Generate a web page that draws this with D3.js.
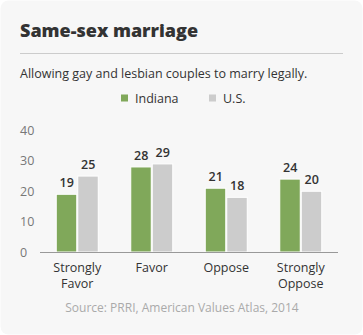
<!DOCTYPE html>
<html><head><meta charset="utf-8">
<script src="https://cdn.jsdelivr.net/npm/d3@7"></script>
<style>
html,body{margin:0;padding:0;background:#fff;}
svg{display:block;font-family:"Open Sans",sans-serif;}
</style></head>
<body><svg id="c" width="363" height="335"></svg>
<script>
const categories = [["Strongly","Favor"],["Favor"],["Oppose"],["Strongly","Oppose"]];
const indiana = [19, 28, 21, 24];
const us = [25, 29, 18, 20];
const seriesNames = ["Indiana", "U.S."];
const colors = ["#80a85a", "#cccccc"];
const yTicks = [0, 10, 20, 30, 40];

const svg = d3.select("#c");
svg.append("rect").attr("x",0.5).attr("y",0.5).attr("width",362).attr("height",334).attr("rx",8).attr("fill","#f7f7f7");

svg.append("text").attr("x",20).attr("y",37).text("Same-sex marriage")
  .attr("font-size",18).attr("font-weight",800).attr("fill","#333");
svg.append("line").attr("x1",20).attr("x2",343).attr("y1",53.5).attr("y2",53.5).attr("stroke","#ccc").attr("stroke-width",1);
svg.append("text").attr("x",20).attr("y",78).text("Allowing gay and lesbian couples to marry legally.")
  .attr("font-size",12.5).attr("fill","#333");

// legend
const legX = [121, 209];
seriesNames.forEach((n,i)=>{
  svg.append("rect").attr("x",legX[i]).attr("y",94.5).attr("width",7).attr("height",7).attr("fill",colors[i]);
  svg.append("text").attr("x",legX[i]+14).attr("y",102.5).text(n).attr("font-size",12.5).attr("fill","#333");
});

const x = d3.scaleBand().domain(d3.range(categories.length)).range([40,338]);
const y = d3.scaleLinear().domain([0,40]).range([252,130.5]);
const bw = 20;

// y tick labels
svg.selectAll(".yt").data(yTicks).join("text")
  .attr("x",20).attr("y",d=>y(d)+4.5).text(d=>d).attr("font-size",12.5).attr("fill","#777");

const series = [indiana, us];
series.forEach((vals,s)=>{
  const g = svg.append("g");
  g.selectAll("rect").data(vals).join("rect")
    .attr("x",(d,i)=>x(i)+x.bandwidth()/2 - 21 + s*21.5)
    .attr("y",d=>y(d)).attr("width",bw+0.5).attr("height",d=>y(0)-y(d))
    .attr("fill",colors[s]).attr("stroke","#fff").attr("stroke-width",1);
  g.selectAll("text").data(vals).join("text")
    .attr("x",(d,i)=>x(i)+x.bandwidth()/2 - 10.5 + s*21.5)
    .attr("y",d=>y(d)-7).attr("text-anchor","middle").text(d=>d)
    .attr("font-size",12.5).attr("font-weight",600).attr("fill","#333");
});

svg.append("line").attr("x1",40).attr("x2",338).attr("y1",252.5).attr("y2",252.5).attr("stroke","#999").attr("stroke-width",1);

// x labels
categories.forEach((lines,i)=>{
  const t = svg.append("text").attr("text-anchor","middle").attr("font-size",12.5).attr("fill","#333");
  lines.forEach((l,j)=>{
    t.append("tspan").attr("x",x(i)+x.bandwidth()/2).attr("y",272+j*16).text(l);
  });
});

svg.append("text").attr("x",182).attr("y",312).attr("text-anchor","middle")
  .text("Source: PRRI, American Values Atlas, 2014").attr("font-size",12).attr("fill","#aaa");
</script></body></html>
